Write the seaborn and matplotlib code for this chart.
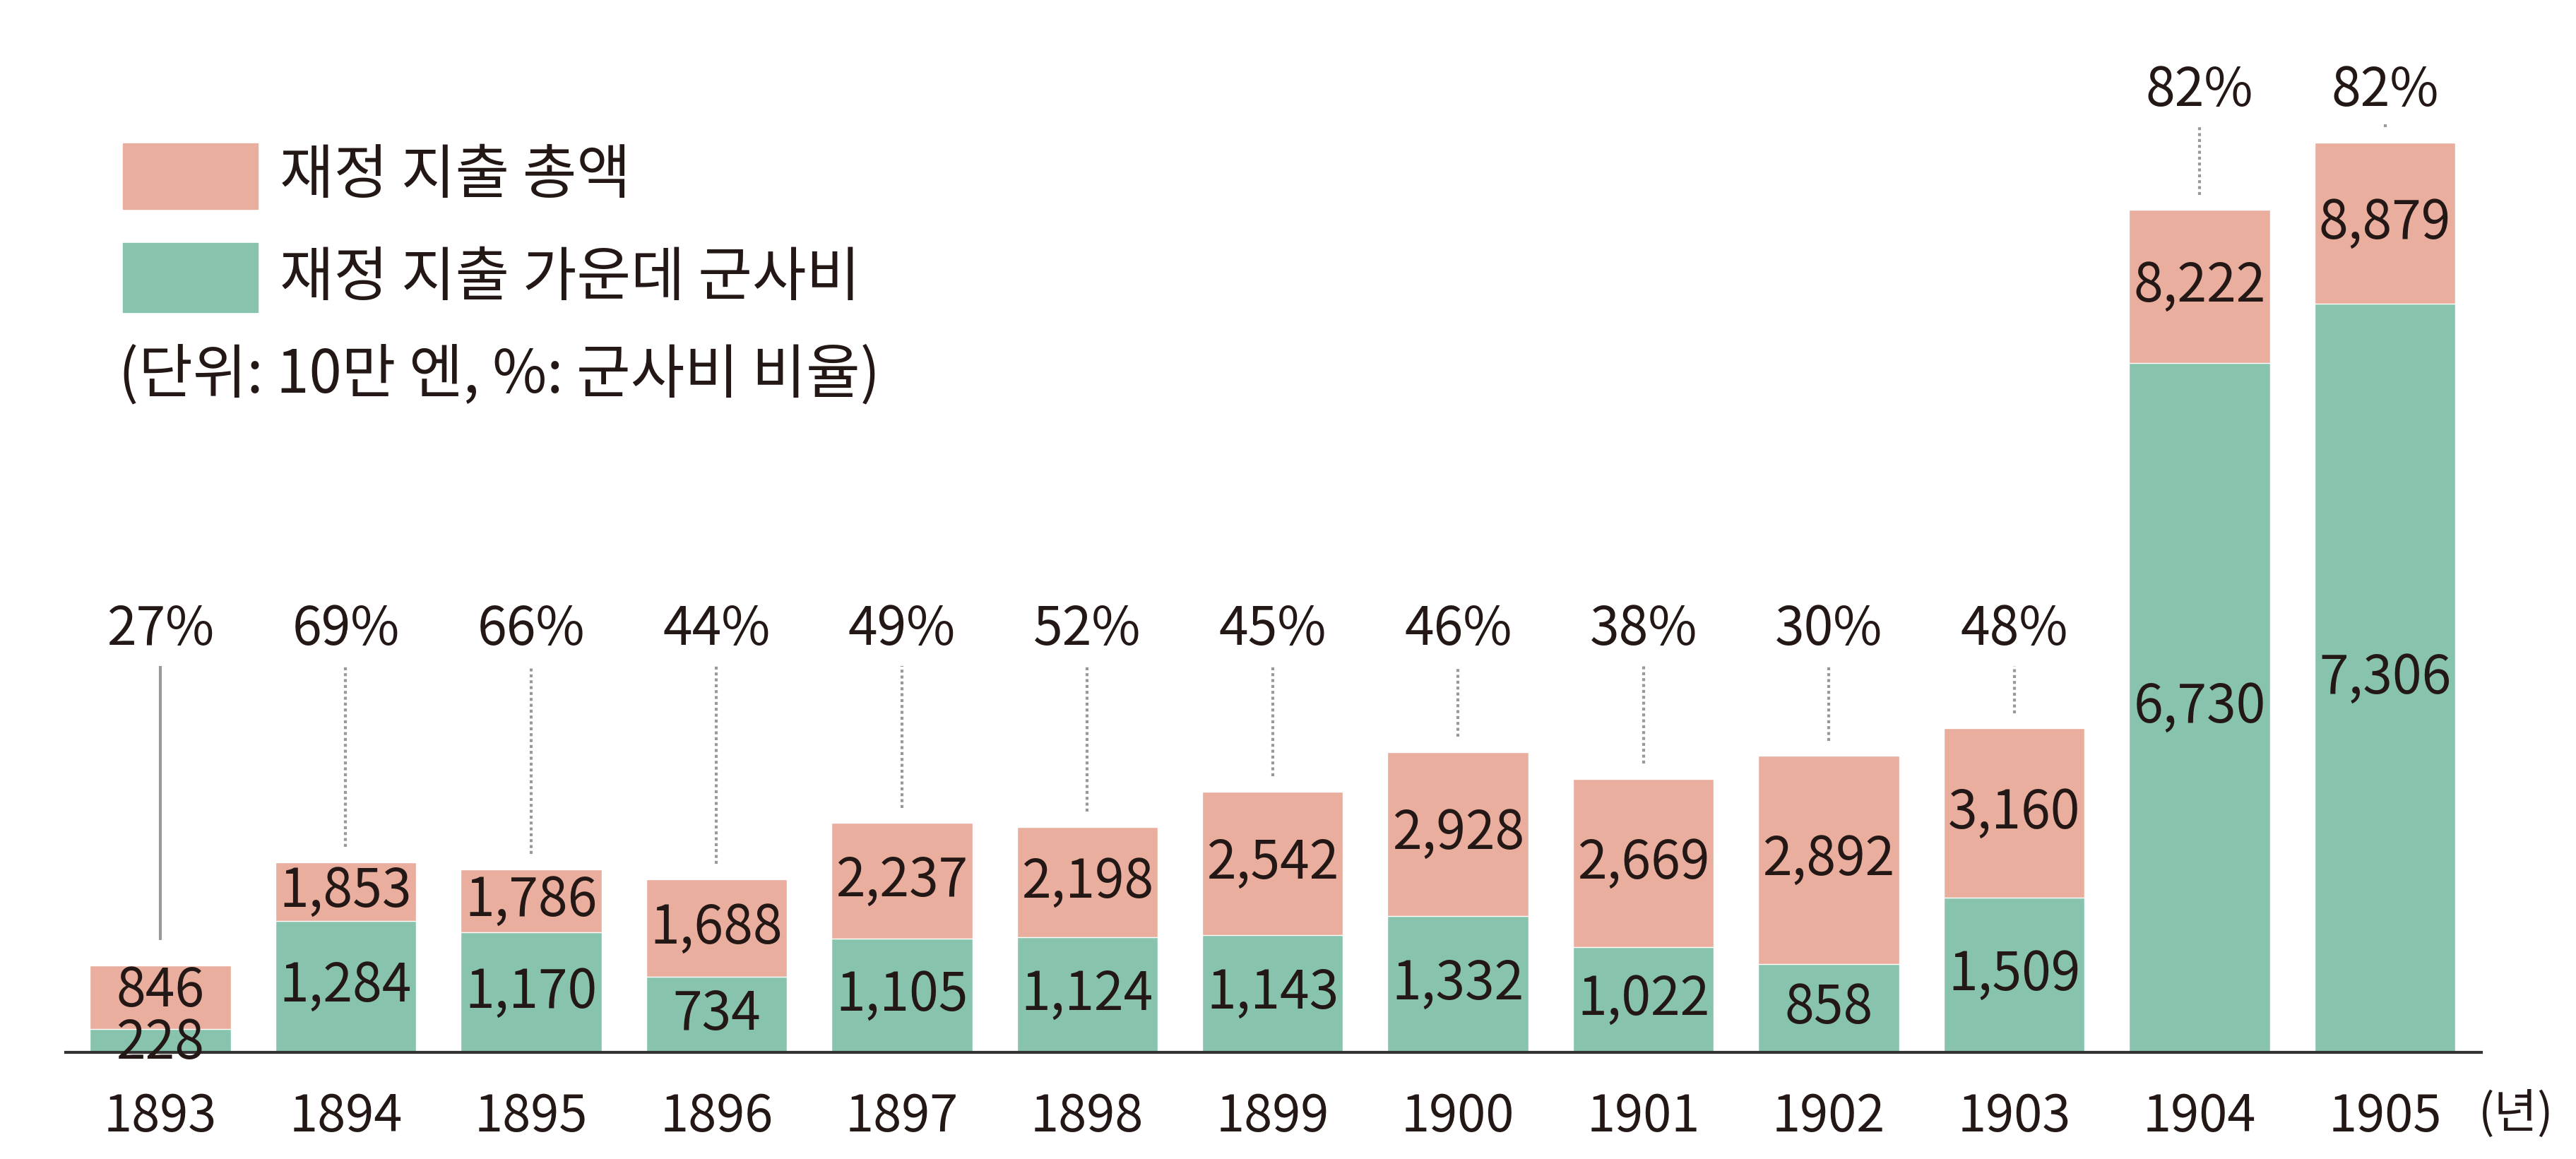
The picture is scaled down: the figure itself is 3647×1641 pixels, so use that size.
import matplotlib
matplotlib.use("Agg")
import matplotlib.pyplot as plt
import seaborn as sns
import pandas as pd
from matplotlib.patches import Rectangle

years = ["1893","1894","1895","1896","1897","1898","1899","1900","1901","1902","1903","1904","1905"]
total = [846,1853,1786,1688,2237,2198,2542,2928,2669,2892,3160,8222,8879]
military = [228,1284,1170,734,1105,1124,1143,1332,1022,858,1509,6730,7306]
pct = [27,69,66,44,49,52,45,46,38,30,48,82,82]

sns.set_theme(style="white")
plt.rcParams['font.family'] = ['Noto Sans CJK KR', 'DejaVu Sans']
PINK = "#EAAE9F"; GREEN = "#88C4AD"; TXT = "#231815"

W, H = 1568, 705
fig = plt.figure(figsize=(36.48, 16.41), dpi=100)
ax = fig.add_axes([40/W, 1-640/H, 1470/W, 640/H])
df = pd.DataFrame({"year": years, "total": total, "military": military})
sns.barplot(data=df, x="year", y="total", color=PINK, width=0.76, saturation=1, ax=ax)
sns.barplot(data=df, x="year", y="military", color=GREEN, width=0.76, saturation=1, ax=ax)
ymax = 640/0.0623
ax.set_ylim(0, ymax)
ax.set_xlim(-0.51, 12.52)
for s in ["top", "right", "left"]:
    ax.spines[s].set_visible(False)
ax.spines["bottom"].set_color("#333333")
ax.spines["bottom"].set_linewidth(3)
ax.set_yticks([])
ax.set_xlabel(""); ax.set_ylabel("")
ax.tick_params(axis="x", length=0, labelsize=52, colors=TXT, pad=40)
fs = 54
for i in range(len(years)):
    t, m = total[i], military[i]
    if i == 0:
        ax.text(i, m + (t-m)/2 + 60, f"{t:,}", ha="center", va="center", fontsize=fs, color=TXT)
        ax.text(i, m/2 - 30, f"{m:,}", ha="center", va="center", fontsize=fs, color=TXT)
    else:
        ax.text(i, m + (t-m)/2, f"{t:,}", ha="center", va="center", fontsize=fs, color=TXT)
        ax.text(i, m/2, f"{m:,}", ha="center", va="center", fontsize=fs, color=TXT)
    if i < 11:
        ly = 4125; top = 3770
    else:
        ly = 9390; top = ly - 330
    ax.text(i, ly, f"{pct[i]}%", ha="center", va="center", fontsize=fs, color=TXT)
    if i == 0:
        ax.plot([i, i], [t + 250, top], color="#999999", lw=3, solid_capstyle="butt")
    else:
        ax.plot([i, i], [t + 150, top], color="#999999", lw=3, ls=(0, (1, 1)))

def fy(y): return 1 - y/H
fig.text(1508/W, fy(678), "(년)", ha="left", va="center", fontsize=48, color=TXT)

# legend
fig.patches.append(Rectangle((75/W, fy(127)), 82/W, 40/H, transform=fig.transFigure, color=PINK))
fig.patches.append(Rectangle((75/W, fy(190)), 82/W, 42/H, transform=fig.transFigure, color=GREEN))
fig.text(170/W, fy(107), "재정 지출 총액", fontsize=60, va="center", color=TXT)
fig.text(170/W, fy(169), "재정 지출 가운데 군사비", fontsize=60, va="center", color=TXT)
fig.text(72/W, fy(228), "(단위: 10만 엔, %: 군사비 비율)", fontsize=60, va="center", color=TXT)
fig.savefig("out.png", dpi=100, facecolor="white")
